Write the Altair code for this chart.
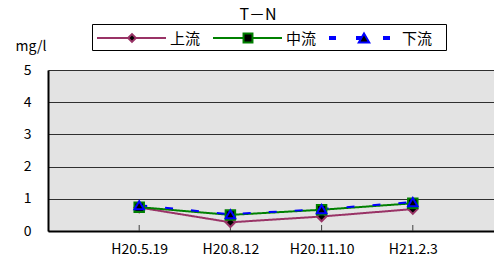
import altair as alt
import pandas as pd

dates = ["H20.5.19", "H20.8.12", "H20.11.10", "H21.2.3"]
series = ["上流", "中流", "下流"]
upstream = [0.73, 0.27, 0.45, 0.68]
midstream = [0.74, 0.50, 0.66, 0.86]
downstream = [0.80, 0.52, 0.68, 0.90]
y_ticks = [0, 1, 2, 3, 4, 5]

colors = ["#993366", "#008000", "#0000FF"]
dashes = [[1, 0], [1, 0], [8, 18]]
legend_dashes = [[1, 0], [1, 0], [7, 20]]
widths = [2, 2, 4]
shapes = ["diamond", "square", "triangle-up"]
marker_sizes = [60, 80, 110]

rows = []
for s, vals in zip(series, [upstream, midstream, downstream]):
    for i, (d, v) in enumerate(zip(dates, vals)):
        rows.append({"series": s, "idx": i + 1, "date": d, "value": v})
df = pd.DataFrame(rows)

W, H = 446, 161
STEP = 91.2
FONT = "Noto Sans CJK JP"
label_expr = "[" + ",".join("'" + d + "'" for d in dates) + "][datum.value - 1]"

x_enc = alt.X(
    "idx:Q",
    scale=alt.Scale(domain=[0, W / STEP], nice=False, zero=False),
    axis=alt.Axis(
        values=[1, 2, 3, 4], labelExpr=label_expr, title=None, grid=False,
        ticks=False, domainColor="black", domainWidth=2, labelFont=FONT,
        labelFontSize=14, labelColor="black", labelPadding=11,
    ),
)
y_enc = alt.Y(
    "value:Q",
    scale=alt.Scale(domain=[0, 5], nice=False),
    axis=alt.Axis(
        values=y_ticks, title="mg/l", titleAngle=0, titleAlign="left",
        titleBaseline="middle", titleX=-33, titleY=-24, titleFont=FONT,
        titleFontSize=14, titleFontWeight="normal", titleColor="black",
        ticks=False, domainColor="black", domainWidth=2,
        gridColor="#303030", gridWidth=1, gridOpacity=1,
        labelFont=FONT, labelFontSize=14, labelColor="black", labelPadding=17,
    ),
)

stroke_scale = alt.Scale(domain=series, range=colors)

lines = alt.Chart(df).mark_line(strokeCap="butt").encode(
    x=x_enc, y=y_enc,
    stroke=alt.Stroke("series:N", scale=stroke_scale, legend=None),
    strokeDash=alt.StrokeDash("series:N", scale=alt.Scale(domain=series, range=dashes), legend=None),
    strokeWidth=alt.StrokeWidth("series:N", scale=alt.Scale(domain=series, range=widths), legend=None),
    detail="series:N",
)

points = alt.Chart(df).mark_point(filled=True, fill="black", opacity=1, strokeWidth=2, size=90).encode(
    x=x_enc, y=y_enc,
    stroke=alt.Stroke("series:N", scale=stroke_scale, legend=None),
    shape=alt.Shape("series:N", scale=alt.Scale(domain=series, range=shapes), legend=None),
)

x_ticks = alt.Chart(df[df.series == series[0]]).mark_rule(color="#404040", strokeWidth=1).encode(
    x=x_enc, y=alt.value(H - 6), y2=alt.value(H),
)

title_df = pd.DataFrame({"t": ["T－N"]})
title_mark = alt.Chart(title_df).mark_text(
    align="center", baseline="middle", font=FONT, fontSize=16, color="black"
).encode(x=alt.value(210), y=alt.value(-55), text="t:N")

# legend, drawn as marks
box = alt.Chart(title_df).mark_rect(fill="white", stroke="black", strokeWidth=1).encode(
    x=alt.value(44.5), x2=alt.value(398.5), y=alt.value(-45.5), y2=alt.value(-19.5)
)
legend_layers = [box]
LY = -32
for i, s in enumerate(series):
    x0 = 49 + 116 * i
    one = pd.DataFrame({"series": [s]})
    legend_layers.append(
        alt.Chart(one).mark_rule(
            color=colors[i], strokeWidth=widths[i], strokeDash=legend_dashes[i], strokeCap="butt"
        ).encode(x=alt.value(x0), x2=alt.value(x0 + 69), y=alt.value(LY))
    )
    legend_layers.append(
        alt.Chart(one).mark_point(
            filled=True, fill="black", stroke=colors[i], strokeWidth=2, opacity=1,
            shape=shapes[i], size=marker_sizes[i],
        ).encode(x=alt.value(x0 + 35), y=alt.value(LY))
    )
    legend_layers.append(
        alt.Chart(one).mark_text(
            align="left", baseline="middle", font=FONT, fontSize=15, color="black"
        ).encode(x=alt.value(x0 + 73), y=alt.value(LY + 0.5), text="series:N")
    )

chart = alt.layer(x_ticks, lines, points, title_mark, *legend_layers).properties(
    width=W, height=H,
    autosize=alt.AutoSizeParams(type="none"),
    padding={"left": 40, "top": 62, "right": 0, "bottom": 24},
).configure_view(fill="#E3E3E3", stroke=None)

chart.save("out.html", embed_options={"renderer": "svg", "actions": False})
